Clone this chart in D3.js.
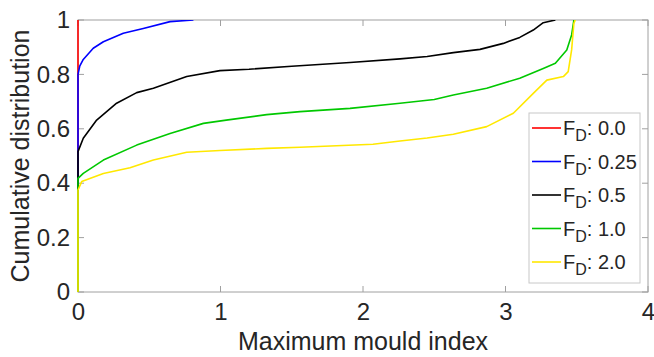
<!DOCTYPE html>
<html><head><meta charset="utf-8">
<script src="https://cdn.jsdelivr.net/npm/d3@7"></script>
<style>body{margin:0;background:#fff}svg{display:block}text{font-family:"Liberation Sans",Arial,sans-serif;fill:#262626}</style>
</head><body><svg id="c" width="654" height="357"></svg>
<script>
const xTicks = [0, 1, 2, 3, 4];
const yTicks = [0, 0.2, 0.4, 0.6, 0.8, 1];
const yTickLabels = ["0", "0.2", "0.4", "0.6", "0.8", "1"];
const seriesNames = ["0.0", "0.25", "0.5", "1.0", "2.0"];
const seriesColors = ["#ff0000", "#0000ff", "#000000", "#00c800", "#ffe800"];

const redX = [0, 0];
const redY = [0, 1];
const blueX = [0, 0, 0.012, 0.037, 0.107, 0.178, 0.318, 0.458, 0.646, 0.81];
const blueY = [0, 0.80, 0.83, 0.855, 0.896, 0.920, 0.951, 0.969, 0.994, 1.0];
const blackX = [0, 0, 0.037, 0.131, 0.271, 0.412, 0.529, 0.763, 0.996, 1.2, 1.5, 1.909, 2.26, 2.45, 2.634, 2.821, 2.985, 3.10, 3.195, 3.265, 3.35];
const blackY = [0, 0.516, 0.565, 0.632, 0.694, 0.733, 0.749, 0.792, 0.814, 0.819, 0.830, 0.844, 0.857, 0.866, 0.880, 0.892, 0.914, 0.936, 0.963, 0.990, 1.0];
const greenX = [0, 0, 0.037, 0.178, 0.412, 0.646, 0.88, 1.04, 1.324, 1.558, 1.909, 2.26, 2.5, 2.634, 2.868, 3.10, 3.265, 3.35, 3.43, 3.464, 3.48];
const greenY = [0, 0.418, 0.436, 0.485, 0.540, 0.583, 0.620, 0.632, 0.652, 0.663, 0.675, 0.694, 0.708, 0.724, 0.749, 0.786, 0.822, 0.841, 0.890, 0.945, 1.0];
const yellowX = [0, 0, 0.026, 0.178, 0.365, 0.529, 0.763, 0.996, 1.324, 1.558, 2.07, 2.26, 2.45, 2.634, 2.868, 3.055, 3.195, 3.29, 3.406, 3.44, 3.464, 3.48, 3.49];
const yellowY = [0, 0.375, 0.406, 0.436, 0.457, 0.485, 0.514, 0.520, 0.528, 0.532, 0.543, 0.555, 0.566, 0.580, 0.608, 0.657, 0.730, 0.779, 0.792, 0.810, 0.890, 0.988, 1.0];

const seriesX = [redX, blueX, blackX, greenX, yellowX];
const seriesY = [redY, blueY, blackY, greenY, yellowY];

const L = 78, R = 648, T = 20, B = 292;
const svg = d3.select("#c");
const x = d3.scaleLinear().domain([0, 4]).range([L, R]);
const y = d3.scaleLinear().domain([0, 1]).range([B, T]);
const axisColor = "#a0a0a0";

svg.append("rect").attr("x", L).attr("y", T).attr("width", R - L).attr("height", B - T)
  .attr("fill", "none").attr("stroke", axisColor).attr("stroke-width", 1);

const tl = 6;
const ax = svg.append("g");
xTicks.forEach(v => {
  ax.append("line").attr("x1", x(v)).attr("x2", x(v)).attr("y1", B).attr("y2", B - tl).attr("stroke", axisColor);
  ax.append("line").attr("x1", x(v)).attr("x2", x(v)).attr("y1", T).attr("y2", T + tl).attr("stroke", axisColor);
});
yTicks.forEach(v => {
  ax.append("line").attr("x1", L).attr("x2", L + tl).attr("y1", y(v)).attr("y2", y(v)).attr("stroke", axisColor);
  ax.append("line").attr("x1", R).attr("x2", R - tl).attr("y1", y(v)).attr("y2", y(v)).attr("stroke", axisColor);
});

const xa = svg.append("g").attr("transform", `translate(0,${B})`)
  .call(d3.axisBottom(x).tickValues(xTicks).tickFormat(d3.format("d")).tickSize(0).tickPadding(11));
const ya = svg.append("g").attr("transform", `translate(${L},0)`)
  .call(d3.axisLeft(y).tickValues(yTicks).tickFormat((d, i) => yTickLabels[i]).tickSize(0).tickPadding(8));
[xa, ya].forEach(g => { g.select(".domain").remove(); g.selectAll("text").attr("font-size", 24).attr("fill", "#262626").attr("font-family", "Liberation Sans, Arial, sans-serif"); });
xa.selectAll("text").attr("dy", "0.71em");

svg.append("text").attr("x", (L + R) / 2).attr("y", 350).attr("text-anchor", "middle")
  .attr("font-size", 25).text("Maximum mould index");
svg.append("text").attr("transform", `translate(29,${(T + B) / 2}) rotate(-90)`).attr("text-anchor", "middle")
  .attr("font-size", 25).text("Cumulative distribution");

svg.append("clipPath").attr("id", "pc").append("rect")
  .attr("x", L - 2).attr("y", T).attr("width", R - L + 4).attr("height", B - T);
const line = d3.line().x(d => x(d[0])).y(d => y(d[1]));
const lg = svg.append("g").attr("clip-path", "url(#pc)");
seriesX.forEach((xs, i) => {
  const pts = xs.map((v, j) => [v, seriesY[i][j]]);
  lg.append("path").attr("d", line(pts)).attr("fill", "none")
    .attr("stroke", seriesColors[i]).attr("stroke-width", 1.6).attr("stroke-linejoin", "round");
});

const lgX = 529, lgY = 113, lgW = 111, lgH = 170, rowH = 33.5;
const leg = svg.append("g");
leg.append("rect").attr("x", lgX).attr("y", lgY).attr("width", lgW).attr("height", lgH)
  .attr("fill", "#fff").attr("stroke", "#c8c8c8");
seriesNames.forEach((n, i) => {
  const cy = lgY + 15 + i * rowH;
  leg.append("line").attr("x1", lgX + 3).attr("x2", lgX + 32).attr("y1", cy).attr("y2", cy)
    .attr("stroke", seriesColors[i]).attr("stroke-width", 1.6);
  const t = leg.append("text").attr("x", lgX + 34).attr("y", cy + 7).attr("font-size", 20);
  t.append("tspan").text("F");
  t.append("tspan").attr("font-size", 16).attr("dy", 6).text("D");
  t.append("tspan").attr("dy", -6).text(": " + n);
});
</script></body></html>
